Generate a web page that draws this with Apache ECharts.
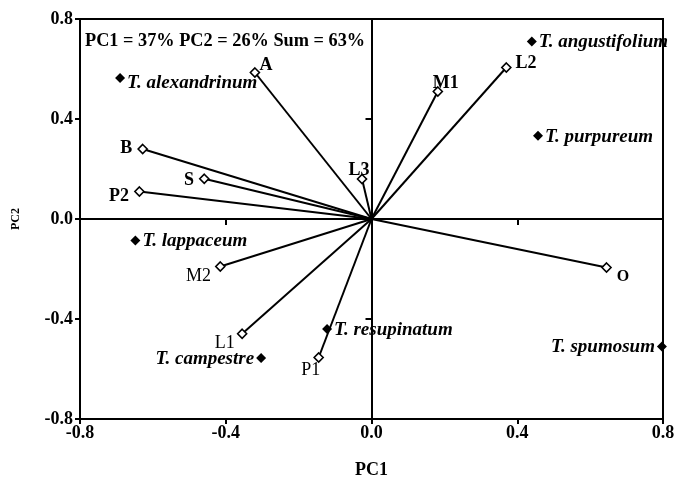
<!DOCTYPE html>
<html><head><meta charset="utf-8">
<script src="https://cdn.jsdelivr.net/npm/echarts@6/dist/echarts.min.js"></script>
<style>html,body{margin:0;padding:0;background:#fff;width:681px;height:478px;overflow:hidden}#c{width:681px;height:478px;overflow:hidden}</style>
</head><body><div id="c"></div>
<script>
// Variable vectors (open diamonds)
var vecNames = ['A','B','S','P2','L3','M1','L2','M2','L1','P1','O'];
var vecPC1   = [-0.32,-0.628,-0.459,-0.637,-0.026,0.182,0.37,-0.415,-0.355,-0.145,0.645];
var vecPC2   = [0.586,0.28,0.161,0.11,0.16,0.51,0.606,-0.19,-0.459,-0.554,-0.194];
// Species (filled diamonds)
var spNames = ['T. alexandrinum','T. angustifolium','T. purpureum','T. lappaceum','T. campestre','T. resupinatum','T. spumosum'];
var spPC1   = [-0.69,0.44,0.457,-0.648,-0.303,-0.122,0.797];
var spPC2   = [0.564,0.71,0.333,-0.086,-0.556,-0.44,-0.51];
var axisTicks = [-0.8,-0.4,0,0.4,0.8];
var note = 'PC1 = 37% PC2 = 26% Sum = 63%';

var FONT = 'Liberation Serif';
var vecLabelPos = {
  'A':{position:'top',offset:[11,10],bold:true},
  'B':{position:'left',offset:[-2,-1],bold:true},
  'S':{position:'left',offset:[-2,2],bold:true},
  'P2':{position:'left',offset:[-2,5],bold:true},
  'L3':{position:'top',offset:[-3,9],bold:true},
  'M1':{position:'top',offset:[8,9],bold:true},
  'L2':{position:'right',offset:[1,-4],bold:true},
  'M2':{position:'left',offset:[-1,10],bold:false},
  'L1':{position:'left',offset:[1,10],bold:false},
  'P1':{position:'bottom',offset:[-8,-5],bold:false},
  'O':{position:'right',offset:[2,9],bold:true}
};
var spLabelPos = ['right','right','right','right','left','right','left'];
var spLabelOff = [[0,5],[0,1],[0,1],[0,1],[0,1],[0,1],[0,1]];

var vecData = vecNames.map(function(n,i){
  var p = vecLabelPos[n];
  return {value:[vecPC1[i],vecPC2[i]], name:n,
    label:{show:true, formatter:n, position:p.position, offset:p.offset,
      fontFamily:FONT, fontWeight:p.bold?'bold':'normal', fontSize:n==='O'?16:18, color:'#000', distance:3}};
});
var spData = spNames.map(function(n,i){
  return {value:[spPC1[i],spPC2[i]], name:n,
    label:{show:true, formatter:n, position:spLabelPos[i], offset:spLabelOff[i],
      fontFamily:FONT, fontStyle:'italic', fontWeight:'bold', fontSize:19, color:'#000', distance:2}};
});

var chart = echarts.init(document.getElementById('c'));
var tickLabelStyle = {fontFamily:FONT, fontWeight:'bold', fontSize:18, color:'#000'};
chart.setOption({
  animation:false,
  grid:{left:80,right:18,top:19,bottom:59,show:true,borderColor:'#000',borderWidth:2,backgroundColor:'transparent',
        containLabel:false,outerBoundsMode:'none'},
  xAxis:[
    {type:'value',min:-0.8,max:0.8,interval:0.4,position:'bottom',
     axisLine:{onZero:false,lineStyle:{color:'#000',width:2}},
     axisTick:{length:5,lineStyle:{color:'#000',width:2}},
     axisLabel:Object.assign({margin:5,formatter:function(v){return v.toFixed(1);}},tickLabelStyle),
     splitLine:{show:false},
     name:'PC1',nameLocation:'middle',nameGap:42,
     nameTextStyle:{fontFamily:FONT,fontWeight:'bold',fontSize:18,color:'#000',verticalAlign:'top'}},
    {type:'value',min:-0.8,max:0.8,interval:0.4,position:'bottom',
     axisLine:{onZero:true,lineStyle:{color:'#000',width:2}},
     axisTick:{length:6,lineStyle:{color:'#000',width:2}},
     axisLabel:{show:false},splitLine:{show:false}}
  ],
  yAxis:[
    {type:'value',min:-0.8,max:0.8,interval:0.4,position:'left',
     axisLine:{onZero:false,lineStyle:{color:'#000',width:2}},
     axisTick:{length:5,lineStyle:{color:'#000',width:2}},
     axisLabel:Object.assign({margin:7,formatter:function(v){return v.toFixed(1);}},tickLabelStyle),
     splitLine:{show:false},
     name:'PC2',nameLocation:'middle',nameGap:58,nameRotate:90,
     nameTextStyle:{fontFamily:FONT,fontWeight:'bold',fontSize:12,color:'#000'}},
    {type:'value',min:-0.8,max:0.8,interval:0.4,position:'left',
     axisLine:{onZero:true,lineStyle:{color:'#000',width:2}},
     axisTick:{length:6,lineStyle:{color:'#000',width:2}},
     axisLabel:{show:false},splitLine:{show:false}}
  ],
  graphic:[{type:'text',left:85,top:32,style:{text:note,fontFamily:FONT,fontWeight:'bold',fontSize:18.3,fill:'#000'}}],
  series:[
    {type:'custom',xAxisIndex:0,yAxisIndex:0,silent:true,z:3,
     data:vecPC1.map(function(v,i){return [v,vecPC2[i]];}),
     renderItem:function(params,api){
       var o = api.coord([0,0]); var e = api.coord([api.value(0),api.value(1)]);
       return {type:'line',shape:{x1:o[0],y1:o[1],x2:e[0],y2:e[1]},style:{stroke:'#000',lineWidth:2}};
     }},
    {type:'scatter',xAxisIndex:0,yAxisIndex:0,z:5,symbol:'diamond',symbolSize:9,
     itemStyle:{color:'#fff',borderColor:'#000',borderWidth:1.6,opacity:1},data:vecData},
    {type:'scatter',xAxisIndex:0,yAxisIndex:0,z:5,symbol:'diamond',symbolSize:10,
     itemStyle:{color:'#000',opacity:1},data:spData}
  ]
});
</script></body></html>
